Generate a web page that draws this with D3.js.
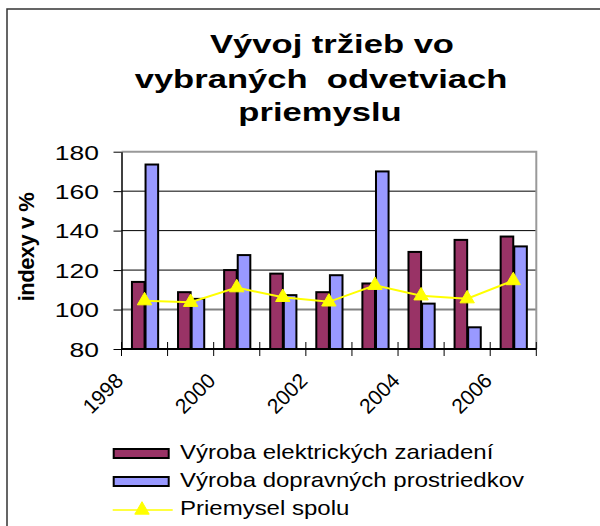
<!DOCTYPE html>
<html>
<head>
<meta charset="utf-8">
<script src="https://cdn.jsdelivr.net/npm/d3@7"></script>
<style>
  body { margin: 0; background: #fff; }
  svg { display: block; font-family: Arial, "Liberation Sans", sans-serif; }
</style>
</head>
<body>
<svg width="600" height="526"></svg>
<script>
const width = 600;
const height = 526;

// data
const years = ["1998", "1999", "2000", "2001", "2002", "2003", "2004", "2005", "2006"];
const elektricke = [114, 108.8, 120, 118.2, 108.8, 113.2, 129.2, 135.3, 137];
const dopravne = [173.5, 105.4, 127.6, 107.3, 117.4, 170, 103, 91, 132];
const spolu = [104.5, 103.7, 111.1, 106.2, 103.9, 112.3, 107, 105.5, 114.7];
const yTicks = [80, 100, 120, 140, 160, 180];
const xLabels = ["1998", "2000", "2002", "2004", "2006"];
const titleLines = ["Vývoj tržieb vo", "vybraných  odvetviach", "priemyslu"];
const seriesNames = ["Výroba elektrických zariadení", "Výroba dopravných prostriedkov", "Priemysel spolu"];
const barColors = ["#993366", "#9999ff"];
const lineColor = "#ffff00";

const svg = d3.select("svg");

// okraj grafu (pravy a dolny su mimo obrazka)
svg.append("rect")
    .attr("x", 7).attr("y", 9)
    .attr("width", 620).attr("height", 540)
    .attr("fill", "#fff")
    .attr("stroke", "#333")
    .attr("stroke-width", 1.5);

// titulok - Excel ho natiahol do sirky
const titleX = [332, 321, 320];
const titleY = [53, 88, 121];
svg.selectAll("text.title")
    .data(titleLines)
    .enter()
    .append("text")
    .attr("class", "title")
    .attr("transform", (d, i) => `translate(${titleX[i]},${titleY[i]}) scale(1.33,1)`)
    .attr("text-anchor", "middle")
    .attr("font-size", 26)
    .attr("font-weight", "bold")
    .style("white-space", "pre")
    .text(d => d);

// plocha grafu
const plotL = 121.5, plotR = 536.3, plotT = 151.7, plotB = 349;

const y = d3.scaleLinear().domain([80, 180]).range([plotB, plotT]);
const xEdge = d3.scaleLinear().domain([0, years.length]).range([plotL, plotR]);
const x0 = d3.scaleBand().domain(years).range([plotL, plotR])
    .paddingInner(0.41).paddingOuter(0.205);
const x1 = d3.scaleBand().domain([0, 1]).range([0, x0.bandwidth()]);

// mriezka
svg.selectAll("line.grid")
    .data(yTicks.filter(v => v > 80 && v < 180))
    .enter()
    .append("line")
    .attr("class", "grid")
    .attr("x1", plotL).attr("x2", plotR)
    .attr("y1", d => y(d)).attr("y2", d => y(d))
    .attr("stroke", d => d === 100 ? "#808080" : "#000")
    .attr("stroke-width", d => d === 100 ? 2 : 1);

// horny a pravy okraj plochy
svg.append("path")
    .attr("d", `M${plotL},${y(180)}H${plotR}V${plotB}`)
    .attr("fill", "none")
    .attr("stroke", "#999")
    .attr("stroke-width", 2);

// stlpce
const groups = svg.selectAll("g.year")
    .data(years)
    .enter()
    .append("g")
    .attr("class", "year")
    .attr("transform", d => `translate(${x0(d)},0)`);

groups.selectAll("rect")
    .data((d, i) => [elektricke[i], dopravne[i]])
    .enter()
    .append("rect")
    .attr("x", (d, j) => x1(j) + 1)
    .attr("y", d => y(d))
    .attr("width", x1.bandwidth() - 1)
    .attr("height", d => plotB - y(d))
    .attr("fill", (d, j) => barColors[j])
    .attr("stroke", "#000")
    .attr("stroke-width", 2);

// os y
const yAxis = d3.axisLeft(y).tickValues(yTicks).tickSize(8).tickSizeOuter(0);
const gy = svg.append("g")
    .attr("transform", `translate(${plotL},0)`)
    .call(yAxis);
gy.select(".domain").attr("stroke", "#000").attr("stroke-width", 1.5);
gy.selectAll(".tick line").attr("stroke", "#000");
gy.selectAll(".tick text")
    .attr("x", -17.9)
    .attr("dy", "0.35em")
    .attr("transform", "scale(1.26,1)")
    .attr("font-size", 21)
    .attr("fill", "#000")
    .attr("font-family", "Arial, 'Liberation Sans', sans-serif");

// os x
svg.append("line")
    .attr("x1", plotL).attr("x2", plotR)
    .attr("y1", plotB).attr("y2", plotB)
    .attr("stroke", "#000")
    .attr("stroke-width", 2);

svg.selectAll("line.xtick")
    .data(d3.range(years.length + 1))
    .enter()
    .append("line")
    .attr("class", "xtick")
    .attr("x1", d => xEdge(d)).attr("x2", d => xEdge(d))
    .attr("y1", plotB - 7).attr("y2", plotB + 7)
    .attr("stroke", "#000")
    .attr("stroke-width", 1);

svg.selectAll("text.xlabel")
    .data(xLabels)
    .enter()
    .append("text")
    .attr("class", "xlabel")
    .attr("transform", d => `translate(${xEdge(years.indexOf(d)) + 3},382) rotate(-45)`)
    .attr("text-anchor", "end")
    .attr("font-size", 21)
    .text(d => d);

// nazov osi y
svg.append("text")
    .attr("transform", "translate(34,247) rotate(-90)")
    .attr("text-anchor", "middle")
    .attr("font-size", 22)
    .attr("font-weight", "bold")
    .attr("letter-spacing", -0.5)
    .text("indexy v %");

// ciara priemysel spolu
const line = d3.line()
    .x((d, i) => x0(years[i]) + x0.bandwidth() / 2)
    .y(d => y(d));

svg.append("path")
    .datum(spolu)
    .attr("d", line)
    .attr("fill", "none")
    .attr("stroke", lineColor)
    .attr("stroke-width", 2);

const tri = d3.symbol().type(d3.symbolTriangle).size(90);
svg.selectAll("path.marker")
    .data(spolu)
    .enter()
    .append("path")
    .attr("class", "marker")
    .attr("d", tri)
    .attr("transform", (d, i) => `translate(${x0(years[i]) + x0.bandwidth() / 2},${y(d)})`)
    .attr("fill", lineColor)
    .attr("stroke", lineColor);

// legenda
const legendY = [459, 487, 515];
const legend = svg.selectAll("g.legend")
    .data(seriesNames)
    .enter()
    .append("g")
    .attr("class", "legend");

legend.filter((d, i) => i < 2)
    .append("rect")
    .attr("x", 113.7)
    .attr("y", (d, i) => legendY[i] - 10)
    .attr("width", 55)
    .attr("height", 9)
    .attr("fill", (d, i) => barColors[i])
    .attr("stroke", "#000")
    .attr("stroke-width", 2);

legend.filter((d, i) => i === 2)
    .each(function() {
        const g = d3.select(this);
        g.append("line")
            .attr("x1", 112.7).attr("x2", 172.7)
            .attr("y1", 510).attr("y2", 510)
            .attr("stroke", lineColor)
            .attr("stroke-width", 1.5);
        g.append("path")
            .attr("d", tri)
            .attr("transform", "translate(142,510)")
            .attr("fill", lineColor)
            .attr("stroke", lineColor);
    });

legend.append("text")
    .attr("transform", (d, i) => `translate(180,${legendY[i]}) scale(1.2,1)`)
    .attr("font-size", 20)
    .text(d => d);
</script>
</body>
</html>
